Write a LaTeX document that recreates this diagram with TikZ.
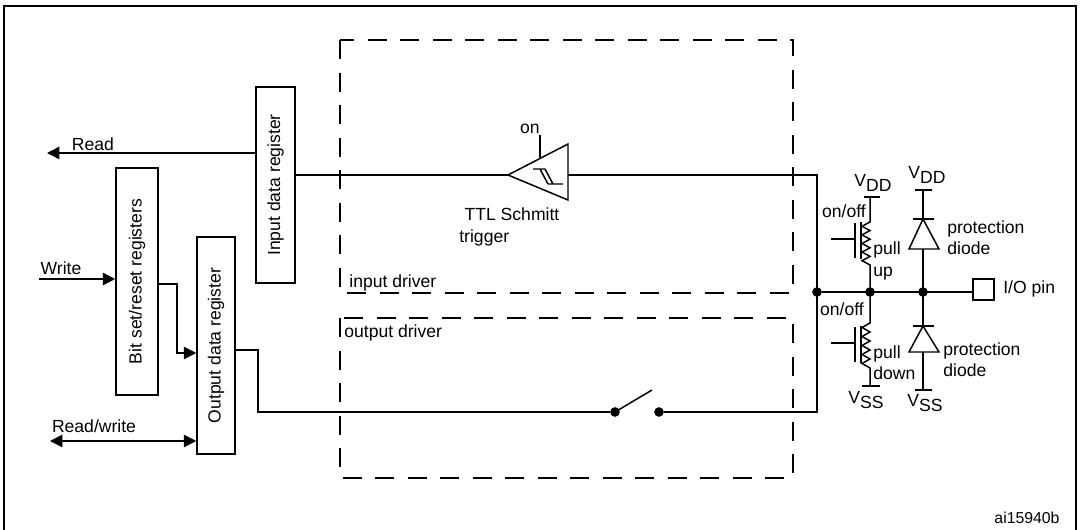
\documentclass[tikz,border=0pt]{standalone}
\usepackage{fontspec}
\setmainfont{Liberation Sans}
\usetikzlibrary{arrows.meta,positioning,calc}
\tikzset{
reg/.style = {draw, fill=white, rectangle, line width=0.9pt, inner sep=0pt},
drv/.style = {draw, line width=1.1pt, dash pattern=on 11pt off 7.5pt},
wire/.style = {line width=0.85pt},
dot/.style = {circle, fill=black, inner sep=0pt, minimum size=5.5pt},
lbl/.style = {inner sep=0pt},
}
\newcommand{\vsub}[1]{V\raisebox{-0.45ex}{#1}}

\begin{document}
\begin{tikzpicture}[x=0.02cm, y=-0.02cm, >={Triangle[length=7pt,width=7pt]}, font=\fontsize{10}{12}\selectfont]
    \useasboundingbox (0,0) rectangle (1080,530);
    \draw[line width=1.1pt] (4,540) -- (4,6) -- (1076,6) -- (1076,540);

    \draw[drv] (340,40) rectangle (793,293);
    \draw[drv] (340,318) rectangle (793,478);
    \node[lbl, anchor=west] (indrv) at (349,283) {input driver};
    \node[lbl, anchor=west] (outdrv) at (344,333) {output driver};

    \node[reg, minimum width=0.78cm, minimum height=3.92cm, label={[rotate=90]center:Input data register}] (inreg) at (275.5,185) {};
    \node[reg, minimum width=0.84cm, minimum height=4.54cm, label={[rotate=90]center:Bit set/reset registers}] (bitreg) at (137,281.5) {};
    \node[reg, minimum width=0.76cm, minimum height=4.34cm, label={[rotate=90]center:Output data register}] (outreg) at (216,345.5) {};

    \coordinate (rdtip) at (47,153);
    \coordinate (wrin) at (39,279);
    \coordinate (rwtip) at (50,441);
    \coordinate (bo) at (177,284);
    \coordinate (oc) at (258,350);
    \draw[wire,->] (inreg.west |- rdtip) -- (rdtip);
    \draw[wire,->] (wrin) -- (bitreg.west |- wrin);
    \draw[wire,<->] (rwtip) -- (outreg.west |- rwtip);
    \draw[wire,->] (bitreg.east |- bo) -- (bo) |- ($(outreg.west)+(0,7.5)$);
    \node[lbl] (rdlbl) at (93,144) {Read};
    \node[lbl] (wrlbl) at (61,268) {Write};
    \node[lbl] (rwlbl) at (94,426) {Read/write};

    % schmitt trigger
    \coordinate (stin) at (508,175);
    \coordinate (stout) at (568,175);
    \draw[wire] (stin) -- (568,144) -- (568,200) -- cycle;
    \draw[wire] (533,169) -- (545,169) (548,184) -- (563,184) (540,169) -- (548,184) (545,169) -- (553,184);
    \draw[wire] (540,135) -- (540,158.5);
    \node[lbl] (onlbl) at (530,129) {on};
    \node[lbl, anchor=west, align=left] (stlbl) at (459,227) {\hspace*{3pt}TTL Schmitt\\trigger};
    \draw[wire] (inreg.east |- stin) -- (stin);

    % switch
    \node[dot] (swl) at (615,412) {};
    \node[dot] (swr) at (659,412) {};
    \draw[wire] (swl.center) -- (652,390);
    \draw[wire] (outreg.east |- oc) -- (oc) |- (swl);

    % pin side
    \node[dot] (j1) at (817,292) {};
    \node[dot] (j2) at (870,292) {};
    \node[dot] (j3) at (923,292) {};
    \node[draw, line width=0.9pt, minimum size=0.42cm, inner sep=0pt] (pin) at (983.5,289.5) {};
    \node[lbl, anchor=west] (pinlbl) at (1003,289) {I/O pin};
    \draw[wire] (stout) -- (817,175) -- (817,412) -- (swr);
    \draw[wire] (j1) -- (pin.west |- j1);

    % pull up / pull down
    \draw[wire] (j2.center) -- (870,265) \foreach \k in {1,...,5} {-- (862,{265-8.6*\k+4.3}) -- (870,{265-8.6*\k})} -- (870,197);
    \draw[wire] (864,197) -- (880,197);
    \draw[wire] (831,239) -- (855,239) (855,223) -- (855,258) (861,222) -- (861,259);
    \draw[wire] (j2.center) -- (870,323) \foreach \k in {1,...,5} {-- (862,{323+9*\k-4.5}) -- (870,{323+9*\k})} -- (870,386);
    \draw[wire] (862,386) -- (880,386);
    \draw[wire] (831,343) -- (855,343) (855,327) -- (855,362) (861,326) -- (861,363);
    \node[lbl] (vdd1) at (873,183) {\vsub{DD}};
    \node[lbl] (vss1) at (866,400) {\vsub{SS}};
    \node[lbl] (onoff1) at (844,211) {on/off};
    \node[lbl] (onoff2) at (842,309) {on/off};
    \node[lbl, anchor=west, align=left] (pulup) at (873,261) {pull\\up};
    \node[lbl, anchor=west, align=left] (puldn) at (873,363) {pull\\down};

    % diodes
    \draw[wire] (915,190) -- (932,190) (923,190) -- (923,219) (913,219) -- (934,219);
    \draw[wire] (923,219) -- (909,249) -- (939,249) -- cycle;
    \draw[wire] (923,249) -- (j3.center) -- (923,326);
    \draw[wire] (913,326) -- (934,326);
    \draw[wire] (923,326) -- (909,352) -- (939,352) -- cycle;
    \draw[wire] (923,352) -- (923,390) (915,390) -- (932,390);
    \node[lbl] (vdd2) at (927,175) {\vsub{DD}};
    \node[lbl] (vss2) at (925,403) {\vsub{SS}};
    \node[lbl, anchor=west, align=left] (prot1) at (947,238) {protection\\diode};
    \node[lbl, anchor=west, align=left] (prot2) at (943,360) {protection\\diode};

    \node[lbl, font=\fontsize{9}{11}\selectfont] (ref) at (1027,518) {ai15940b};
\end{tikzpicture}
\end{document}
